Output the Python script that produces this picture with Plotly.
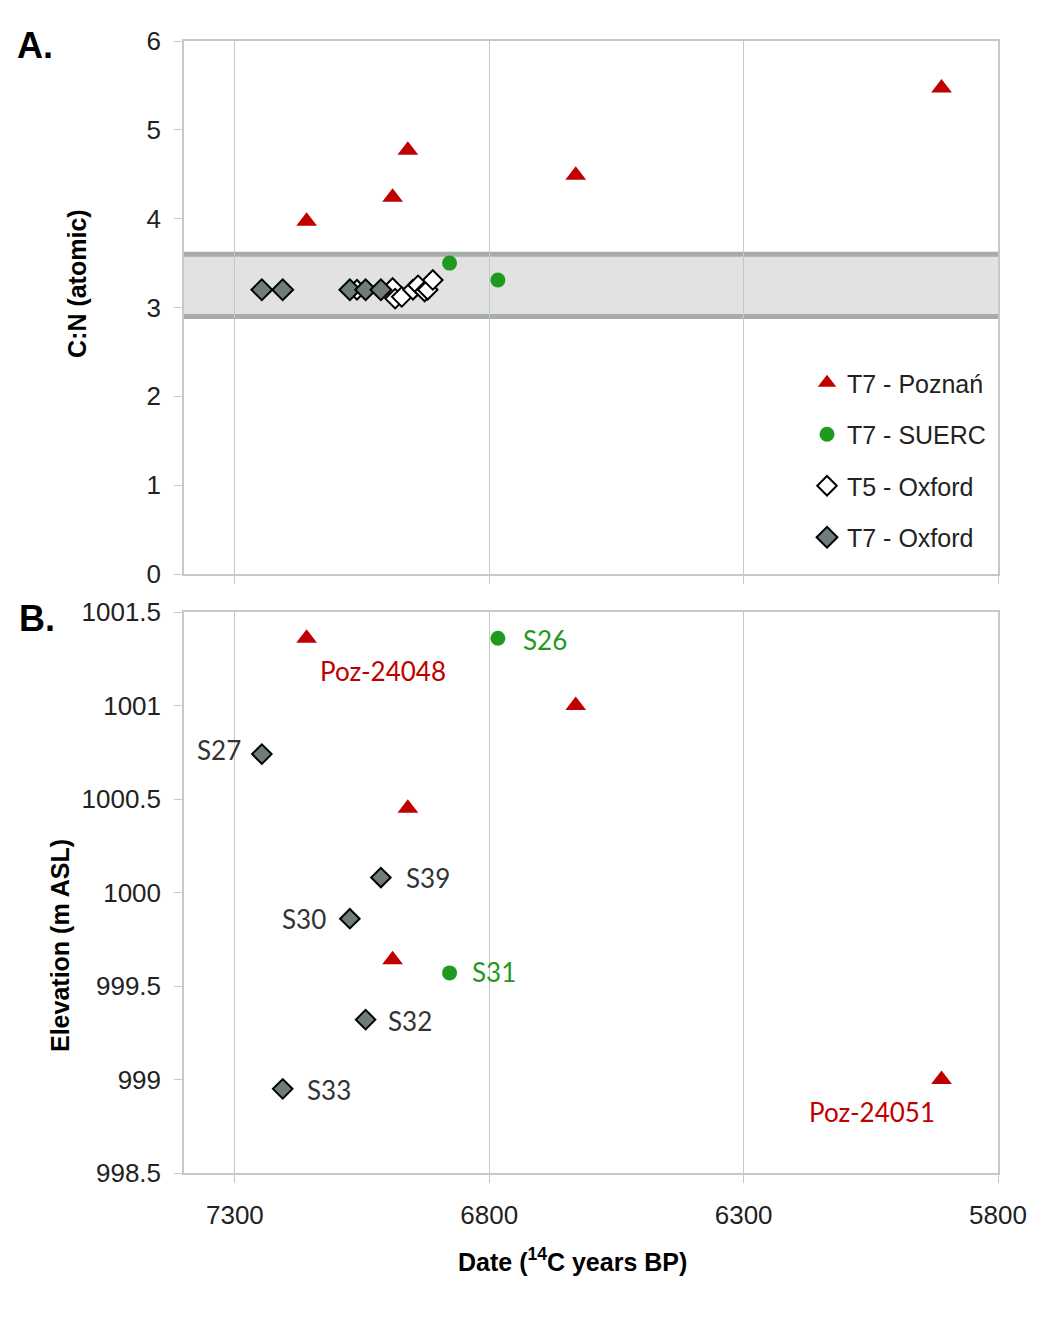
"""C:N ratio and elevation against radiocarbon date, two stacked panels."""
import plotly.graph_objects as go

# ---------------------------------------------------------------------
# data
# ---------------------------------------------------------------------
poz_date = [7159, 6990, 6960, 6630, 5911]
poz_cn = [3.97, 4.24, 4.77, 4.49, 5.47]
poz_elev = [1001.36, 999.64, 1000.45, 1001.00, 999.00]
poz_labels = ["Poz-24048", "", "", "", "Poz-24051"]

suerc_date = [6878, 6783]
suerc_cn = [3.50, 3.31]
suerc_elev = [999.57, 1001.36]
suerc_labels = ["S31", "S26"]

t5ox_date = [7060, 6990, 6985, 6972, 6950, 6940, 6927, 6921, 6911]
t5ox_cn = [3.20, 3.22, 3.10, 3.12, 3.20, 3.25, 3.18, 3.20, 3.31]

t7ox_date = [7247, 7206, 7074, 7043, 7013]
t7ox_cn = [3.20, 3.20, 3.20, 3.20, 3.20]
t7ox_elev = [1000.74, 998.95, 999.86, 999.32, 1000.08]
t7ox_labels = ["S27", "S33", "S30", "S32", "S39"]

band_low, band_high = 2.9, 3.6  # acceptable C:N range

# ---------------------------------------------------------------------
# styling
# ---------------------------------------------------------------------
W, H = 1063, 1318
OFF = 8  # body margin of the html page
ML, MR, MT, MB = 184, 65, 41, 145  # wanted plot box, in page pixels
PW, PH = W - ML - MR, H - MT - MB

RED = "#c00000"
GREEN = "#1f9a1f"
GREY = "#6e7c7c"
AXIS = "#c3c9c9"
TXT = "#222222"
FONT = "Liberation Sans, Arial, sans-serif"
LABEL_FONT = "Lato, Calibri, sans-serif"

# label placement: (xanchor, xshift, yshift) per point
poz_place = [("left", 11, -33), None, None, None, ("right", -5, -32)]
suerc_place = [("left", 20, 1), ("left", 23, -2)]
t7ox_place = [("right", -19, 4), ("left", 22, -1), ("right", -22, 0),
              ("left", 20, -1), ("left", 23, 0)]


def px_x(px):
    """Page pixel column -> paper x."""
    return (px - ML) / PW


def px_y(px):
    """Page pixel row -> paper y."""
    return (H - MB - px) / PH


fig = go.Figure()

# panel A ------------------------------------------------------------
fig.add_trace(go.Scatter(
    x=poz_date, y=poz_cn, mode="markers", name="T7 - Poznań",
    marker=dict(symbol="triangle-up", size=18, color=RED),
    xaxis="x", yaxis="y", legendgroup="a",
))
fig.add_trace(go.Scatter(
    x=suerc_date, y=suerc_cn, mode="markers", name="T7 - SUERC",
    marker=dict(symbol="circle", size=15, color=GREEN),
    xaxis="x", yaxis="y", legendgroup="b",
))
fig.add_trace(go.Scatter(
    x=t5ox_date, y=t5ox_cn, mode="markers", name="T5 - Oxford",
    marker=dict(symbol="diamond", size=15, color="white",
                line=dict(color="black", width=2)),
    xaxis="x", yaxis="y", legendgroup="c",
))
fig.add_trace(go.Scatter(
    x=t7ox_date, y=t7ox_cn, mode="markers", name="T7 - Oxford",
    marker=dict(symbol="diamond", size=16, color=GREY,
                line=dict(color="black", width=2)),
    xaxis="x", yaxis="y", legendgroup="d",
))

# panel B ------------------------------------------------------------
fig.add_trace(go.Scatter(
    x=poz_date, y=poz_elev, mode="markers",
    marker=dict(symbol="triangle-up", size=18, color=RED),
    xaxis="x2", yaxis="y2", showlegend=False,
))
fig.add_trace(go.Scatter(
    x=suerc_date, y=suerc_elev, mode="markers",
    marker=dict(symbol="circle", size=15, color=GREEN),
    xaxis="x2", yaxis="y2", showlegend=False,
))
fig.add_trace(go.Scatter(
    x=t7ox_date, y=t7ox_elev, mode="markers",
    marker=dict(symbol="diamond", size=15, color=GREY,
                line=dict(color="black", width=2)),
    xaxis="x2", yaxis="y2", showlegend=False,
))

# point labels
for xs, ys, labels, places, col in [
    (poz_date, poz_elev, poz_labels, poz_place, RED),
    (suerc_date, suerc_elev, suerc_labels, suerc_place, GREEN),
    (t7ox_date, t7ox_elev, t7ox_labels, t7ox_place, "#333333"),
]:
    for xv, yv, lab, pl in zip(xs, ys, labels, places):
        if not lab:
            continue
        anchor, dx, dy = pl
        fig.add_annotation(
            x=xv, y=yv, xref="x2", yref="y2", text=lab, showarrow=False,
            xanchor=anchor, yanchor="middle", xshift=dx, yshift=dy,
            font=dict(family=LABEL_FONT, size=26, color=col),
        )

# C:N band
fig.add_shape(type="rect", xref="x domain", yref="y", x0=0, x1=1,
              y0=band_low, y1=band_high, fillcolor="#e2e2e2",
              line_width=0, layer="below")
for yv in (band_low, band_high):
    fig.add_shape(type="line", xref="x domain", yref="y", x0=0, x1=1,
                  y0=yv, y1=yv, line=dict(color="#a5ada5", width=5),
                  layer="below")

xcommon = dict(
    range=[7400, 5800], tick0=7300, dtick=500, showgrid=True,
    gridcolor=AXIS, gridwidth=1.2, showline=True, linecolor=AXIS,
    linewidth=1.5, mirror=True, ticks="outside", ticklen=8,
    tickcolor=AXIS, zeroline=False,
)
ycommon = dict(
    showgrid=False, showline=True, linecolor=AXIS, linewidth=1.5,
    mirror=True, ticks="outside", ticklen=8, tickcolor=AXIS,
    zeroline=False, ticklabelstandoff=8, tickformat=".1~f",
    tickfont=dict(family=FONT, size=26, color=TXT),
)

fig.update_layout(
    width=W, height=H,
    margin=dict(l=ML - OFF, r=MR + OFF, t=MT - OFF, b=MB + OFF),
    paper_bgcolor="white", plot_bgcolor="white",
    font=dict(family=FONT, color=TXT),
    xaxis=dict(domain=[0, 1], anchor="y", showticklabels=False,
               **xcommon),
    xaxis2=dict(domain=[0, 1], anchor="y2", matches="x",
                tickfont=dict(family=FONT, size=26, color=TXT),
                ticklabelstandoff=10, **xcommon),
    yaxis=dict(domain=[px_y(574), 1], anchor="x", range=[0, 6], dtick=1,
               **ycommon),
    yaxis2=dict(domain=[0, px_y(612)], anchor="x2",
                range=[998.5, 1001.5], dtick=0.5, **ycommon),
    legend=dict(
        x=px_x(807), y=px_y(360), xanchor="left", yanchor="top",
        font=dict(family=FONT, size=25, color=TXT),
        bgcolor="rgba(0,0,0,0)", traceorder="grouped",
        tracegroupgap=16, itemwidth=30,
    ),
)

ann = [
    ("<b>A.</b>", 35, 45, 36, 0),
    ("<b>B.</b>", 37, 618, 36, 0),
    ("<b>C:N (atomic)</b>", 77, 284, 25, -90),
    ("<b>Elevation (m ASL)</b>", 60, 945, 25, -90),
    ("<b>Date (<sup>14</sup>C years BP)</b>", 572, 1260, 25, 0),
]
for text, ax, ay, size, angle in ann:
    fig.add_annotation(
        text=text, xref="paper", yref="paper", x=px_x(ax), y=px_y(ay),
        xanchor="center", yanchor="middle", showarrow=False,
        textangle=angle, font=dict(family=FONT, size=size, color="black"),
    )

fig.write_html("out.html")
